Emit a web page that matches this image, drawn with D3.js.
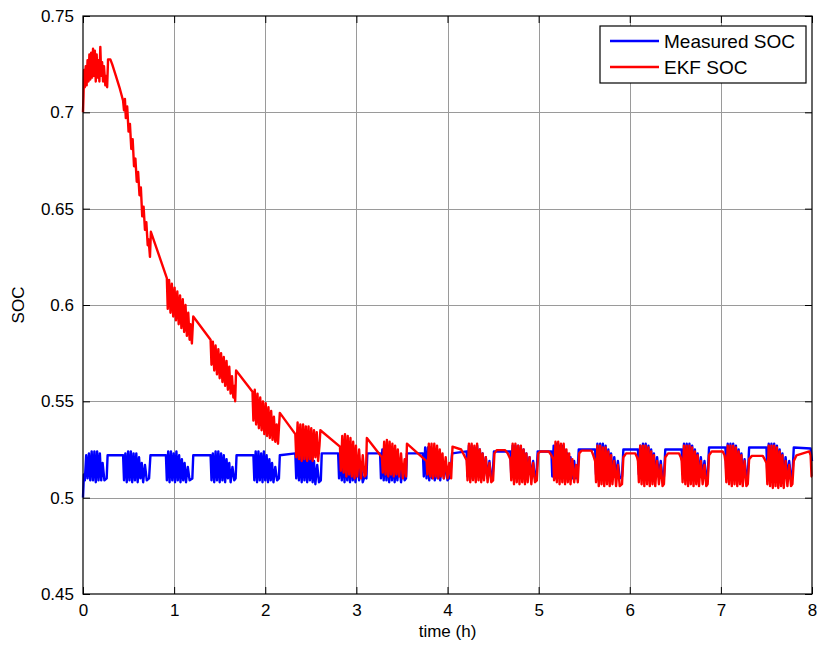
<!DOCTYPE html>
<html>
<head>
<meta charset="utf-8">
<script src="https://cdn.jsdelivr.net/npm/d3@7"></script>
<style>
  html, body { margin: 0; padding: 0; background: #fff; }
  svg { display: block; font-family: Arial, "Liberation Sans", Helvetica, sans-serif; }
</style>
</head>
<body>
<svg id="chart" width="817" height="646"></svg>
<script>
// tick values / labels
const xTicks = [0, 1, 2, 3, 4, 5, 6, 7, 8];
const yTicks = [0.45, 0.5, 0.55, 0.6, 0.65, 0.7, 0.75];
const yTickLabels = ['0.45', '0.5', '0.55', '0.6', '0.65', '0.7', '0.75'];
const seriesNames = ['Measured SOC', 'EKF SOC'];

// Measured SOC, [time (h), soc]
const measuredSoc = [
  [0, 0.500], [0.01, 0.512], [0.02, 0.509], [0.035, 0.522], [0.05, 0.510], [0.065, 0.523], [0.08, 0.509], [0.095, 0.524],
  [0.11, 0.509], [0.125, 0.524], [0.14, 0.508], [0.155, 0.524], [0.17, 0.509], [0.185, 0.523], [0.2, 0.509], [0.215, 0.518],
  [0.235, 0.509], [0.26, 0.510], [0.27, 0.522], [0.44, 0.522],
  [0.45, 0.509], [0.465, 0.523], [0.48, 0.508], [0.495, 0.524], [0.51, 0.509], [0.525, 0.524], [0.54, 0.508], [0.555, 0.523],
  [0.57, 0.509], [0.585, 0.523], [0.6, 0.508], [0.615, 0.521], [0.63, 0.510], [0.645, 0.518], [0.66, 0.508], [0.68, 0.517],
  [0.7, 0.509], [0.725, 0.510], [0.74, 0.522], [0.91, 0.522],
  [0.92, 0.509], [0.935, 0.524], [0.95, 0.508], [0.965, 0.524], [0.98, 0.509], [0.995, 0.523], [1.01, 0.508], [1.025, 0.524],
  [1.04, 0.509], [1.055, 0.522], [1.07, 0.508], [1.085, 0.520], [1.1, 0.509], [1.115, 0.518], [1.13, 0.508], [1.15, 0.516],
  [1.17, 0.509], [1.2, 0.510], [1.21, 0.522], [1.4, 0.522],
  [1.41, 0.509], [1.425, 0.523], [1.44, 0.508], [1.455, 0.524], [1.47, 0.509], [1.485, 0.524], [1.5, 0.508], [1.515, 0.523],
  [1.53, 0.509], [1.545, 0.522], [1.56, 0.508], [1.575, 0.520], [1.59, 0.510], [1.605, 0.518], [1.62, 0.508], [1.64, 0.516],
  [1.66, 0.509], [1.675, 0.510], [1.685, 0.522], [1.87, 0.522],
  [1.88, 0.509], [1.895, 0.524], [1.91, 0.508], [1.925, 0.524], [1.94, 0.509], [1.955, 0.523], [1.97, 0.508], [1.985, 0.524],
  [2.0, 0.509], [2.015, 0.522], [2.03, 0.508], [2.045, 0.520], [2.06, 0.509], [2.075, 0.518], [2.09, 0.508], [2.11, 0.516],
  [2.13, 0.509], [2.15, 0.510], [2.16, 0.522], [2.33, 0.523],
  [2.34, 0.510], [2.355, 0.524], [2.37, 0.509], [2.385, 0.524], [2.4, 0.508], [2.415, 0.525], [2.43, 0.509], [2.445, 0.524],
  [2.46, 0.508], [2.475, 0.523], [2.49, 0.509], [2.505, 0.521], [2.52, 0.508], [2.535, 0.519], [2.55, 0.507], [2.57, 0.517],
  [2.59, 0.508], [2.61, 0.509], [2.62, 0.523], [2.8, 0.523],
  [2.81, 0.510], [2.825, 0.525], [2.84, 0.509], [2.855, 0.525], [2.87, 0.508], [2.885, 0.525], [2.9, 0.509], [2.915, 0.524],
  [2.93, 0.508], [2.945, 0.523], [2.96, 0.509], [2.975, 0.521], [2.99, 0.508], [3.01, 0.519], [3.03, 0.509], [3.05, 0.517],
  [3.07, 0.508], [3.09, 0.511], [3.11, 0.510], [3.12, 0.523], [3.26, 0.523],
  [3.27, 0.510], [3.285, 0.525], [3.3, 0.509], [3.315, 0.526], [3.33, 0.509], [3.345, 0.525], [3.36, 0.508], [3.375, 0.525],
  [3.39, 0.509], [3.405, 0.523], [3.42, 0.508], [3.435, 0.521], [3.45, 0.509], [3.47, 0.519], [3.49, 0.508], [3.51, 0.517],
  [3.53, 0.509], [3.545, 0.510], [3.555, 0.523], [3.73, 0.523],
  [3.74, 0.511], [3.755, 0.526], [3.77, 0.510], [3.785, 0.526], [3.8, 0.509], [3.815, 0.526], [3.83, 0.510], [3.845, 0.525],
  [3.86, 0.509], [3.875, 0.524], [3.89, 0.510], [3.905, 0.522], [3.92, 0.509], [3.94, 0.520], [3.96, 0.510], [3.98, 0.518],
  [4.0, 0.509], [4.03, 0.511], [4.05, 0.523], [4.21, 0.524],
  [4.22, 0.511], [4.235, 0.527], [4.25, 0.510], [4.265, 0.527], [4.28, 0.511], [4.295, 0.526], [4.31, 0.510], [4.325, 0.527],
  [4.34, 0.511], [4.355, 0.525], [4.37, 0.510], [4.385, 0.523], [4.4, 0.511], [4.42, 0.521], [4.44, 0.510], [4.46, 0.519],
  [4.48, 0.510], [4.495, 0.511], [4.51, 0.524], [4.69, 0.524],
  [4.7, 0.511], [4.715, 0.527], [4.73, 0.510], [4.745, 0.527], [4.76, 0.511], [4.775, 0.527], [4.79, 0.510], [4.805, 0.526],
  [4.82, 0.511], [4.835, 0.525], [4.85, 0.510], [4.865, 0.523], [4.88, 0.511], [4.9, 0.521], [4.92, 0.510], [4.94, 0.519],
  [4.96, 0.510], [4.975, 0.511], [4.99, 0.524], [5.14, 0.524],
  [5.15, 0.511], [5.165, 0.527], [5.18, 0.510], [5.195, 0.528], [5.21, 0.511], [5.225, 0.527], [5.24, 0.510], [5.255, 0.527],
  [5.27, 0.511], [5.285, 0.525], [5.3, 0.510], [5.315, 0.523], [5.33, 0.511], [5.35, 0.521], [5.37, 0.510], [5.39, 0.519],
  [5.41, 0.510], [5.425, 0.511], [5.44, 0.525], [5.62, 0.525],
  [5.63, 0.512], [5.645, 0.528], [5.66, 0.511], [5.675, 0.528], [5.69, 0.510], [5.705, 0.528], [5.72, 0.511], [5.735, 0.527],
  [5.75, 0.510], [5.765, 0.525], [5.78, 0.511], [5.795, 0.523], [5.81, 0.510], [5.83, 0.521], [5.85, 0.511], [5.87, 0.519],
  [5.89, 0.510], [5.915, 0.511], [5.93, 0.525], [6.09, 0.525],
  [6.1, 0.512], [6.115, 0.527], [6.13, 0.511], [6.145, 0.528], [6.16, 0.510], [6.175, 0.528], [6.19, 0.511], [6.205, 0.527],
  [6.22, 0.510], [6.235, 0.525], [6.25, 0.511], [6.265, 0.523], [6.28, 0.510], [6.3, 0.521], [6.32, 0.511], [6.34, 0.519],
  [6.36, 0.510], [6.375, 0.511], [6.39, 0.525], [6.57, 0.525],
  [6.58, 0.512], [6.595, 0.528], [6.61, 0.511], [6.625, 0.528], [6.64, 0.510], [6.655, 0.528], [6.67, 0.511], [6.685, 0.527],
  [6.7, 0.510], [6.715, 0.525], [6.73, 0.511], [6.745, 0.523], [6.76, 0.510], [6.78, 0.521], [6.8, 0.511], [6.82, 0.519],
  [6.84, 0.510], [6.855, 0.511], [6.87, 0.526], [7.05, 0.526],
  [7.06, 0.512], [7.075, 0.528], [7.09, 0.511], [7.105, 0.528], [7.12, 0.510], [7.135, 0.528], [7.15, 0.511], [7.165, 0.527],
  [7.18, 0.510], [7.195, 0.525], [7.21, 0.511], [7.225, 0.523], [7.24, 0.510], [7.26, 0.520], [7.28, 0.510], [7.295, 0.511],
  [7.31, 0.526], [7.5, 0.526],
  [7.51, 0.512], [7.525, 0.528], [7.54, 0.511], [7.555, 0.528], [7.57, 0.510], [7.585, 0.528], [7.6, 0.511], [7.615, 0.527],
  [7.63, 0.510], [7.645, 0.525], [7.66, 0.511], [7.675, 0.523], [7.69, 0.510], [7.71, 0.521], [7.73, 0.511], [7.75, 0.519],
  [7.77, 0.510], [7.785, 0.511], [7.8, 0.526], [7.985, 0.5255], [8.0, 0.519]
];

// EKF estimate, [time (h), soc]
const ekfSoc = [
  [0, 0.700], [0.005, 0.708], [0.012, 0.722], [0.02, 0.713], [0.03, 0.724], [0.04, 0.714], [0.05, 0.727], [0.06, 0.716],
  [0.07, 0.730], [0.08, 0.717], [0.09, 0.731], [0.1, 0.718], [0.11, 0.733], [0.12, 0.719], [0.13, 0.732], [0.14, 0.716],
  [0.15, 0.730], [0.16, 0.718], [0.17, 0.727], [0.18, 0.716], [0.19, 0.734], [0.2, 0.719], [0.21, 0.726], [0.22, 0.716],
  [0.23, 0.724], [0.245, 0.714], [0.26, 0.719], [0.265, 0.713], [0.275, 0.7275], [0.3, 0.7275], [0.32, 0.725], [0.36, 0.719],
  [0.4, 0.713], [0.44, 0.706],
  [0.45, 0.701], [0.46, 0.707], [0.47, 0.697], [0.485, 0.703], [0.5, 0.690], [0.515, 0.694], [0.53, 0.681], [0.545, 0.686],
  [0.56, 0.672], [0.575, 0.676], [0.59, 0.664], [0.605, 0.669], [0.62, 0.657], [0.635, 0.661], [0.65, 0.646], [0.665, 0.651],
  [0.68, 0.639], [0.695, 0.643], [0.71, 0.631], [0.72, 0.634], [0.735, 0.625], [0.745, 0.638], [0.92, 0.614],
  [0.93, 0.598], [0.945, 0.613], [0.96, 0.596], [0.975, 0.611], [0.99, 0.594], [1.005, 0.609], [1.02, 0.592], [1.035, 0.607],
  [1.05, 0.590], [1.065, 0.605], [1.08, 0.588], [1.095, 0.603], [1.11, 0.586], [1.125, 0.600], [1.14, 0.584], [1.155, 0.596],
  [1.17, 0.582], [1.18, 0.590], [1.195, 0.580], [1.21, 0.594], [1.4, 0.582],
  [1.41, 0.569], [1.425, 0.581], [1.44, 0.566], [1.455, 0.579], [1.47, 0.564], [1.485, 0.577], [1.5, 0.562], [1.515, 0.575],
  [1.53, 0.560], [1.545, 0.573], [1.56, 0.558], [1.575, 0.571], [1.59, 0.556], [1.605, 0.568], [1.62, 0.554], [1.635, 0.563],
  [1.65, 0.552], [1.66, 0.558], [1.67, 0.550], [1.68, 0.566], [1.86, 0.555],
  [1.87, 0.540], [1.885, 0.556], [1.9, 0.538], [1.915, 0.554], [1.93, 0.536], [1.945, 0.552], [1.96, 0.535], [1.975, 0.550],
  [1.99, 0.533], [2.005, 0.549], [2.02, 0.532], [2.035, 0.547], [2.05, 0.531], [2.065, 0.545], [2.08, 0.530], [2.095, 0.542],
  [2.11, 0.529], [2.125, 0.538], [2.14, 0.528], [2.16, 0.544], [2.33, 0.533],
  [2.34, 0.521], [2.355, 0.539], [2.37, 0.520], [2.385, 0.538], [2.4, 0.519], [2.415, 0.538], [2.43, 0.520], [2.445, 0.537],
  [2.46, 0.519], [2.475, 0.537], [2.49, 0.520], [2.505, 0.536], [2.52, 0.519], [2.535, 0.535], [2.55, 0.521], [2.565, 0.534],
  [2.58, 0.519], [2.595, 0.527], [2.605, 0.535], [2.82, 0.5265],
  [2.83, 0.514], [2.845, 0.532], [2.86, 0.513], [2.875, 0.533], [2.89, 0.511], [2.905, 0.532], [2.92, 0.512], [2.935, 0.531],
  [2.95, 0.511], [2.965, 0.529], [2.98, 0.510], [2.995, 0.527], [3.01, 0.511], [3.03, 0.525], [3.05, 0.510], [3.07, 0.522],
  [3.09, 0.511], [3.105, 0.512], [3.115, 0.531], [3.28, 0.521],
  [3.29, 0.513], [3.305, 0.529], [3.32, 0.512], [3.335, 0.530], [3.35, 0.511], [3.365, 0.529], [3.38, 0.512], [3.395, 0.528],
  [3.41, 0.511], [3.425, 0.527], [3.44, 0.512], [3.455, 0.525], [3.47, 0.511], [3.49, 0.523], [3.51, 0.510], [3.53, 0.520],
  [3.545, 0.511], [3.555, 0.528], [3.77, 0.519],
  [3.78, 0.512], [3.795, 0.528], [3.81, 0.511], [3.825, 0.528], [3.84, 0.510], [3.855, 0.528], [3.87, 0.511], [3.885, 0.527],
  [3.9, 0.510], [3.915, 0.525], [3.93, 0.511], [3.945, 0.523], [3.96, 0.510], [3.98, 0.521], [4.0, 0.510], [4.02, 0.518],
  [4.04, 0.510], [4.055, 0.5265], [4.15, 0.525], [4.21, 0.5195],
  [4.22, 0.509], [4.235, 0.528], [4.25, 0.508], [4.265, 0.528], [4.28, 0.509], [4.295, 0.527], [4.31, 0.508], [4.325, 0.528],
  [4.34, 0.509], [4.355, 0.525], [4.37, 0.508], [4.385, 0.523], [4.4, 0.509], [4.42, 0.521], [4.44, 0.508], [4.46, 0.518],
  [4.48, 0.508], [4.5, 0.509], [4.515, 0.523], [4.54, 0.5247], [4.63, 0.5247], [4.66, 0.523], [4.69, 0.520],
  [4.7, 0.509], [4.715, 0.528], [4.73, 0.507], [4.745, 0.528], [4.76, 0.508], [4.775, 0.527], [4.79, 0.507], [4.805, 0.527],
  [4.82, 0.508], [4.835, 0.525], [4.85, 0.507], [4.865, 0.523], [4.88, 0.508], [4.9, 0.521], [4.92, 0.507], [4.94, 0.518],
  [4.96, 0.508], [4.98, 0.509], [4.995, 0.523], [5.02, 0.524], [5.11, 0.524], [5.14, 0.522], [5.16, 0.520],
  [5.17, 0.509], [5.185, 0.529], [5.2, 0.508], [5.215, 0.529], [5.23, 0.507], [5.245, 0.528], [5.26, 0.508], [5.275, 0.528],
  [5.29, 0.507], [5.305, 0.525], [5.32, 0.508], [5.335, 0.523], [5.35, 0.507], [5.37, 0.520], [5.39, 0.508], [5.41, 0.517],
  [5.43, 0.508], [5.445, 0.523], [5.47, 0.5244], [5.58, 0.5244], [5.6, 0.522], [5.62, 0.519],
  [5.63, 0.508], [5.645, 0.527], [5.66, 0.506], [5.675, 0.527], [5.69, 0.507], [5.705, 0.526], [5.72, 0.506], [5.735, 0.526],
  [5.75, 0.507], [5.765, 0.524], [5.78, 0.506], [5.795, 0.522], [5.81, 0.507], [5.83, 0.519], [5.85, 0.506], [5.87, 0.517],
  [5.89, 0.506], [5.915, 0.507], [5.93, 0.521], [5.96, 0.523], [6.06, 0.523], [6.08, 0.521], [6.09, 0.519],
  [6.1, 0.508], [6.115, 0.527], [6.13, 0.507], [6.145, 0.527], [6.16, 0.506], [6.175, 0.527], [6.19, 0.507], [6.205, 0.526],
  [6.22, 0.506], [6.235, 0.524], [6.25, 0.507], [6.265, 0.522], [6.28, 0.506], [6.3, 0.519], [6.32, 0.507], [6.34, 0.517],
  [6.36, 0.506], [6.375, 0.507], [6.39, 0.521], [6.42, 0.523], [6.54, 0.523], [6.56, 0.521], [6.57, 0.519],
  [6.58, 0.508], [6.595, 0.527], [6.61, 0.507], [6.625, 0.527], [6.64, 0.506], [6.655, 0.527], [6.67, 0.507], [6.685, 0.526],
  [6.7, 0.506], [6.715, 0.524], [6.73, 0.507], [6.745, 0.522], [6.76, 0.506], [6.78, 0.519], [6.8, 0.507], [6.82, 0.517],
  [6.84, 0.506], [6.855, 0.507], [6.87, 0.522], [6.9, 0.524], [7.02, 0.524], [7.04, 0.522], [7.05, 0.519],
  [7.06, 0.508], [7.075, 0.527], [7.09, 0.507], [7.105, 0.527], [7.12, 0.506], [7.135, 0.527], [7.15, 0.507], [7.165, 0.526],
  [7.18, 0.506], [7.195, 0.524], [7.21, 0.507], [7.225, 0.522], [7.24, 0.506], [7.26, 0.519], [7.28, 0.506], [7.295, 0.507],
  [7.31, 0.520], [7.34, 0.5217], [7.46, 0.5217], [7.48, 0.520], [7.5, 0.518],
  [7.51, 0.507], [7.525, 0.527], [7.54, 0.506], [7.555, 0.527], [7.57, 0.505], [7.585, 0.527], [7.6, 0.506], [7.615, 0.526],
  [7.63, 0.505], [7.645, 0.524], [7.66, 0.506], [7.675, 0.522], [7.69, 0.505], [7.71, 0.519], [7.73, 0.506], [7.75, 0.517],
  [7.77, 0.506], [7.785, 0.507], [7.8, 0.519], [7.83, 0.522], [7.97, 0.524], [7.985, 0.522], [7.995, 0.511], [8.0, 0.511]
];

const width = 817;
const height = 646;
const margin = { top: 16, right: 5, bottom: 52, left: 83 };
const colors = ['#0000ff', '#ff0000'];

const svg = d3.select('#chart');

const x = d3.scaleLinear().domain([0, 8]).range([margin.left, width - margin.right]);
const y = d3.scaleLinear().domain([0.45, 0.75]).range([height - margin.bottom, margin.top]);

const plotW = width - margin.right - margin.left;
const plotH = height - margin.bottom - margin.top;

svg.append('rect').attr('width', width).attr('height', height).attr('fill', '#fff');

// grid
const grid = svg.append('g').attr('class', 'grid').attr('stroke', '#9a9a9a').attr('stroke-width', 1);
grid.selectAll('line.gx')
  .data(xTicks.slice(1, -1))
  .join('line')
  .attr('class', 'gx')
  .attr('x1', (d) => Math.round(x(d)) + 0.5)
  .attr('x2', (d) => Math.round(x(d)) + 0.5)
  .attr('y1', margin.top)
  .attr('y2', height - margin.bottom);
grid.selectAll('line.gy')
  .data(yTicks.slice(1, -1))
  .join('line')
  .attr('class', 'gy')
  .attr('x1', margin.left)
  .attr('x2', width - margin.right)
  .attr('y1', (d) => Math.round(y(d)) + 0.5)
  .attr('y2', (d) => Math.round(y(d)) + 0.5);

// series
const line = d3.line()
  .x((d) => x(d[0]))
  .y((d) => y(d[1]));

[measuredSoc, ekfSoc].forEach((data, i) => {
  svg.append('path')
    .datum(data)
    .attr('fill', 'none')
    .attr('stroke', colors[i])
    .attr('stroke-width', 2.4)
    .attr('stroke-linejoin', 'round')
    .attr('d', line);
});

// axes (MATLAB-like box, ticks pointing inwards)
const fontSize = '17px';
const bottomAxis = d3.axisBottom(x).tickValues(xTicks).tickSize(-7).tickPadding(10).tickFormat(d3.format('d'));
const leftAxis = d3.axisLeft(y).tickValues(yTicks).tickSize(-7).tickPadding(9)
  .tickFormat((d, i) => yTickLabels[i]);
const topAxis = d3.axisTop(x).tickValues(xTicks).tickSize(-7).tickFormat('');
const rightAxis = d3.axisRight(y).tickValues(yTicks).tickSize(-7).tickFormat('');

const styleAxis = (g) => {
  g.select('.domain').remove();
  g.selectAll('.tick line').attr('stroke', '#000');
  g.selectAll('.tick text').attr('fill', '#000').style('font-size', fontSize)
    .style('font-family', 'Arial, "Liberation Sans", sans-serif');
};

svg.append('g').attr('transform', `translate(0,${height - margin.bottom})`).call(bottomAxis).call(styleAxis);
svg.append('g').attr('transform', `translate(${margin.left},0)`).call(leftAxis).call(styleAxis);
svg.append('g').attr('transform', `translate(0,${margin.top})`).call(topAxis).call(styleAxis);
svg.append('g').attr('transform', `translate(${width - margin.right},0)`).call(rightAxis).call(styleAxis);

// outer box
svg.append('rect')
  .attr('x', margin.left)
  .attr('y', margin.top)
  .attr('width', plotW)
  .attr('height', plotH)
  .attr('fill', 'none')
  .attr('stroke', '#000')
  .attr('stroke-width', 1.2);

// axis labels
svg.append('text')
  .attr('x', margin.left + plotW / 2)
  .attr('y', height - 9)
  .attr('text-anchor', 'middle')
  .style('font-size', fontSize)
  .text('time (h)');

svg.append('text')
  .attr('transform', `translate(24,${margin.top + plotH / 2}) rotate(-90)`)
  .attr('text-anchor', 'middle')
  .style('font-size', fontSize)
  .text('SOC');

// legend
const legend = svg.append('g').attr('transform', 'translate(600,26)');
legend.append('rect')
  .attr('width', 206)
  .attr('height', 57)
  .attr('fill', '#fff')
  .attr('stroke', '#000')
  .attr('stroke-width', 1.2);

const items = legend.selectAll('g.item')
  .data(seriesNames)
  .join('g')
  .attr('class', 'item')
  .attr('transform', (d, i) => `translate(0,${15 + i * 26})`);

items.append('line')
  .attr('x1', 10)
  .attr('x2', 59)
  .attr('stroke', (d, i) => colors[i])
  .attr('stroke-width', 2.4);

items.append('text')
  .attr('x', 64)
  .attr('dy', '0.36em')
  .style('font-size', '19px')
  .text((d) => d);
</script>
</body>
</html>
